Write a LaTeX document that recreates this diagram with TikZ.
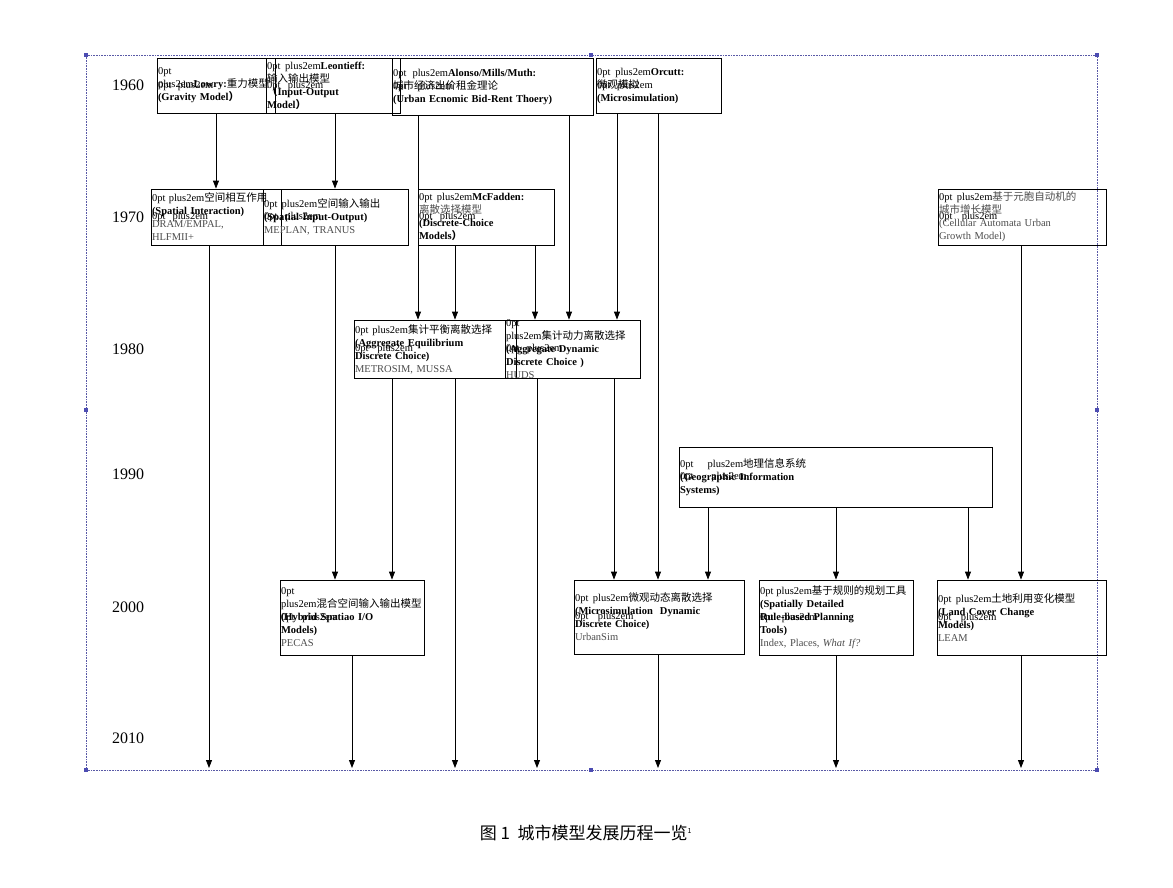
\documentclass[tikz,border=0pt]{standalone}
\usepackage{fontspec}
\setmainfont{Liberation Serif}
\newfontfamily\cjk{Noto Sans CJK SC}
\usetikzlibrary{arrows.meta}
\newcommand\zh[1]{{\cjk #1}}
\newcommand\gr[1]{{\color{black!70}#1}}
\begin{document}
\begin{tikzpicture}[x=1pt,y=-1pt,
  box/.style={draw,line width=0.8pt,align=center,font=\fontsize{10.5}{13}\selectfont\hyphenpenalty=10000,inner sep=1pt},
  arr/.style={-{Triangle[length=8pt,width=6pt]},line width=0.8pt},
  year/.style={font=\fontsize{16}{16}\selectfont},
  handle/.style={fill=blue!40!gray,minimum size=4pt,inner sep=0pt}]
\useasboundingbox (0,0) rectangle (1173,887);
\newcommand\bx[6]{\pgfmathsetmacro\bw{#4-#2}\pgfmathsetmacro\bh{#5-#3}\pgfmathsetmacro\tw{#4-#2+20}\pgfmathsetmacro\cx{(#2+#4)/2}\pgfmathsetmacro\cy{(#3+#5)/2}%
  \node[box,minimum width=\bw pt,minimum height=\bh pt,text width=\tw pt] (#1) at (\cx,\cy) {};
  \node[box,draw=none,text width=\tw pt] at (\cx,\cy) {#6};}
\newcommand\vl[3]{\coordinate (tmp) at (#3,0); \draw[arr] (#1.south -| tmp) -- (#2.north -| tmp);}
\newcommand\vb[2]{\coordinate (tmp) at (#2,768); \draw[arr] (#1.south -| tmp) -- (tmp);}
% frame
\draw[densely dotted,blue!30!gray,line width=0.6pt] (86,55) rectangle (1097,770);
\foreach \p in {(86,55),(591,55),(1097,55),(86,410),(1097,410),(86,770),(591,770),(1097,770)} \node[handle] at \p {};
% years
\foreach \y/\t in {85/1960,217/1970,349/1980,474/1990,607/2000,738/2010} \node[year] at (128,\y) {\t};
% boxes
\bx{lowry}{168}{58}{264}{113}{\textbf{Lowry:}\zh{重力模型}\\\textbf{(Gravity Model\zh{）}}}
\bx{leon}{277}{58}{389}{113}{\textbf{Leontieff:}\\\zh{输入输出模型}\\\textbf{\zh{（}Input-Output}\\\textbf{Model\zh{）}}}
\bx{alonso}{403}{58}{582}{115}{\textbf{Alonso/Mills/Muth:}\\\zh{城市经济出价租金理论}\\\textbf{(Urban Ecnomic Bid-Rent Thoery)}}
\bx{orcutt}{607}{58}{710}{113}{\textbf{Orcutt:}\\\zh{微观模拟}\\\textbf{(Microsimulation)}}
\bx{si}{162}{189}{270}{245}{\zh{空间相互作用}\\\textbf{(Spatial Interaction)}\\\gr{DRAM/EMPAL,}\\\gr{HLFMII+}}
\bx{sio}{274}{189}{397}{245}{\zh{空间输入输出}\\\textbf{(Spatial Input-Output)}\\\gr{MEPLAN, TRANUS}}
\bx{mcf}{429}{189}{543}{245}{\textbf{McFadden:}\\\gr{\zh{离散选择模型}}\\\textbf{(Discrete-Choice}\\\textbf{Models\zh{）}}}
\bx{ca}{949}{189}{1095}{245}{\gr{\zh{基于元胞自动机的}\\\zh{城市增长模型}\\(Cellular Automata Urban\\Growth Model)}}
\bx{aeq}{365}{320}{505}{378}{\zh{集计平衡离散选择}\\\textbf{(Aggregate Equilibrium}\\\textbf{Discrete Choice)}\\\gr{METROSIM, MUSSA}}
\bx{adyn}{516}{320}{629}{378}{\zh{集计动力离散选择}\\\textbf{(Aggregate Dynamic}\\\textbf{Discrete Choice )}\\\gr{HUDS}}
\bx{gis}{690}{447}{981}{507}{\zh{地理信息系统}\\\textbf{(Geographic Information}\\\textbf{Systems)}}
\bx{hyb}{291}{580}{413}{655}{\zh{混合空间输入输出模型}\\\textbf{(Hybrid Spatiao I/O}\\\textbf{Models)}\\\gr{PECAS}}
\bx{mdyn}{585}{580}{733}{654}{\zh{微观动态离散选择}\\\textbf{(Microsimulation~~Dynamic}\\\textbf{Discrete Choice)}\\\gr{UrbanSim}}
\bx{rule}{770}{580}{902}{655}{\zh{基于规则的规划工具}\\\textbf{(Spatially Detailed}\\\textbf{Rule-based Planning}\\\textbf{Tools)}\\\gr{Index, Places, \textit{What If?}}}
\bx{land}{948}{580}{1095}{655}{\zh{土地利用变化模型}\\\textbf{(Land Cover Change}\\\textbf{Models)}\\\gr{LEAM}}
% connectors
\vl{lowry}{si}{216}
\vl{leon}{sio}{335}
\vl{alonso}{aeq}{418}
\vl{alonso}{adyn}{569}
\vl{orcutt}{adyn}{617}
\vl{orcutt}{mdyn}{658}
\vl{mcf}{aeq}{455}
\vl{mcf}{adyn}{535}
\vl{sio}{hyb}{335}
\vl{aeq}{hyb}{392}
\vl{adyn}{mdyn}{614}
\vl{gis}{mdyn}{708}
\vl{gis}{rule}{836}
\vl{gis}{land}{968}
\vl{ca}{land}{1021}
\vb{si}{209}
\vb{hyb}{352}
\vb{aeq}{455}
\vb{adyn}{537}
\vb{mdyn}{658}
\vb{rule}{836}
\vb{land}{1021}
% caption
\node[font=\cjk\fontsize{17}{17}\selectfont] (cap) at (586,833) {图 1\ \ 城市模型发展历程一览\textsuperscript{\fontsize{7}{7}\selectfont 1}};
\end{tikzpicture}
\end{document}
